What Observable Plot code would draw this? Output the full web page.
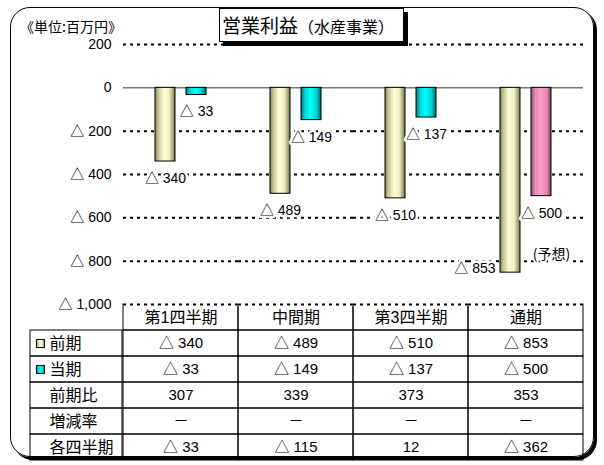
<!DOCTYPE html>
<html><head><meta charset="utf-8">
<script src="https://cdn.jsdelivr.net/npm/d3@7"></script>
<script src="https://cdn.jsdelivr.net/npm/@observablehq/plot@0.6"></script>
<style>
html,body{margin:0;padding:0;background:#fff;}
#wrap{position:relative;width:604px;height:465px;overflow:hidden;background:#fff;font-family:"Liberation Sans","Noto Sans CJK JP",sans-serif;}
#frame{position:absolute;left:10px;top:7px;width:582px;height:448px;border:1.5px solid #000;border-radius:20px;box-shadow:3px 3px 0 #000;}
.abs{position:absolute;}
#unit{left:20px;top:16px;font-size:14px;font-family:"Noto Sans CJK JP",sans-serif;line-height:20px;white-space:nowrap;}
#title{left:219px;top:8px;width:183px;height:32px;border:1px solid #000;box-shadow:4px 4px 0 #000;background:#fff;font-family:"Noto Sans CJK JP",sans-serif;white-space:nowrap;line-height:32px;}
#title .big{font-size:19px;margin-left:2px;}
#title .small{font-size:16px;}
</style></head>
<body>
<div id="wrap">
  <svg width="0" height="0" style="position:absolute">
    <defs>
      <linearGradient id="gPrev" x1="0" x2="1" y1="0" y2="0">
        <stop offset="0" stop-color="#85855a"/>
        <stop offset="0.18" stop-color="#c9c99a"/>
        <stop offset="0.45" stop-color="#ffffd4"/>
        <stop offset="0.72" stop-color="#eeeebd"/>
        <stop offset="1" stop-color="#76764c"/>
      </linearGradient>
      <linearGradient id="gCurr" x1="0" x2="1" y1="0" y2="0">
        <stop offset="0" stop-color="#007272"/>
        <stop offset="0.2" stop-color="#00d8d8"/>
        <stop offset="0.48" stop-color="#00ffff"/>
        <stop offset="0.78" stop-color="#00d0d0"/>
        <stop offset="1" stop-color="#006464"/>
      </linearGradient>
      <linearGradient id="gFore" x1="0" x2="1" y1="0" y2="0">
        <stop offset="0" stop-color="#8a5470"/>
        <stop offset="0.2" stop-color="#e08ab6"/>
        <stop offset="0.48" stop-color="#ff9ccc"/>
        <stop offset="0.78" stop-color="#e58cb8"/>
        <stop offset="1" stop-color="#7a4862"/>
      </linearGradient>
    </defs>
  </svg>
  <div id="frame"></div>
</div>
<script>
// ---- data ----
const categories = ["第1四半期", "中間期", "第3四半期", "通期"];
const prevValues = [-340, -489, -510, -853];      // 前期
const currValues = [-33, -149, -137, -500];       // 当期
const forecastFlags = [false, false, false, true]; // 当期 通期 = 予想
const ratioValues = [307, 339, 373, 353];          // 前期比
const changeRates = ["－", "－", "－", "－"];       // 増減率
const quarterValues = [-33, -115, 12, -362];       // 各四半期
const yTicks = [200, 0, -200, -400, -600, -800, -1000];
const rowLabels = ["前期", "当期", "前期比", "増減率", "各四半期"];
const seriesNames = ["前期", "当期"];
const forecastNote = "(予想)";

const fmt = v => (v < 0 ? "△ " : "") + d3.format(",")(Math.abs(v));
const FONT = '"Liberation Sans","Noto Sans CJK JP",sans-serif';

const bars = categories.flatMap((c, i) => [
  {cat: c, series: "前期", value: prevValues[i], kind: "prev"},
  {cat: c, series: "当期", value: currValues[i], kind: forecastFlags[i] ? "fore" : "curr", forecast: forecastFlags[i]}
]);
const fillOf = {prev: "url(#gPrev)", curr: "url(#gCurr)", fore: "url(#gFore)"};

const wrap = document.getElementById("wrap");
function place(el, left, top) {
  el.style.position = "absolute";
  el.style.left = left + "px";
  el.style.top = top + "px";
  el.style.margin = "0";
  wrap.appendChild(el);
}

// ---- table (drawn first, underneath) ----
const rowKeys = ["header", ...rowLabels];
const cells = [];
categories.forEach((c, i) => {
  cells.push({cat: c, row: "header", text: c});
  cells.push({cat: c, row: "前期", text: fmt(prevValues[i])});
  cells.push({cat: c, row: "当期", text: fmt(currValues[i])});
  cells.push({cat: c, row: "前期比", text: fmt(ratioValues[i])});
  cells.push({cat: c, row: "増減率", text: changeRates[i]});
  cells.push({cat: c, row: "各四半期", text: fmt(quarterValues[i])});
});

const tablePlot = Plot.plot({
  width: 464, height: 158,
  marginLeft: 1, marginRight: 2, marginTop: 1, marginBottom: 1,
  style: {background: "transparent", fontFamily: FONT, overflow: "visible"},
  x: {domain: categories, padding: 0, axis: null},
  y: {domain: rowKeys, padding: 0, axis: null},
  marks: [
    Plot.cell(cells, {x: "cat", y: "row", fill: "none", stroke: "#000", strokeWidth: 1}),
    Plot.text(cells, {filter: d => d.row === "header", x: "cat", y: "row", text: "text", fontSize: 16, fill: "#000", fontFamily: FONT}),
    Plot.text(cells, {filter: d => d.row !== "header", x: "cat", y: "row", text: "text", fontSize: 15, fill: "#000", fontFamily: FONT})
  ]
});
place(tablePlot, 121, 303);

const labelPlot = Plot.plot({
  width: 95, height: 158,
  marginLeft: 1, marginRight: 2, marginTop: 1, marginBottom: 1,
  style: {background: "transparent", fontFamily: FONT, overflow: "visible"},
  x: {domain: ["label"], padding: 0, axis: null},
  y: {domain: rowKeys, padding: 0, axis: null},
  marks: [
    Plot.cell(rowLabels, {x: () => "label", y: d => d, fill: "none", stroke: "#000", strokeWidth: 1}),
    Plot.dot([seriesNames[0]], {y: d => d, frameAnchor: "left", dx: 10, symbol: "square", r: 4.6, fill: "url(#gPrev)", stroke: "#000", strokeWidth: 1}),
    Plot.dot([seriesNames[1]], {y: d => d, frameAnchor: "left", dx: 10, symbol: "square", r: 4.6, fill: "url(#gCurr)", stroke: "#000", strokeWidth: 1}),
    Plot.text(rowLabels, {y: d => d, text: d => d, frameAnchor: "left", dx: 19, textAnchor: "start", fontSize: 16, fill: "#000", fontFamily: "Noto Sans CJK JP"})
  ]
});
place(labelPlot, 29, 303);

// ---- chart ----
const chart = Plot.plot({
  width: 604, height: 310,
  marginLeft: 122, marginRight: 21, marginTop: 44, marginBottom: 6,
  style: {background: "transparent", fontSize: "14px", fontFamily: FONT, overflow: "visible", color: "#000"},
  facet: {data: bars, x: "cat"},
  fx: {domain: categories, padding: 0, axis: null, label: null},
  x: {domain: seriesNames, paddingInner: 0.34, paddingOuter: 0.97, axis: null},
  y: {domain: [-1000, 200], ticks: yTicks, tickFormat: fmt, tickSize: 0, tickPadding: 12, label: null},
  marks: [
    Plot.ruleY([-1000], {stroke: "#fff", strokeWidth: 3}),
    Plot.ruleY(yTicks.filter(v => v !== 0), {stroke: "#000", strokeWidth: 2, strokeDasharray: "3,4"}),
    Plot.ruleY([0], {stroke: "#333", strokeWidth: 1}),
    Plot.barY(bars, {filter: d => d.kind === "prev", x: "series", y: "value", fill: fillOf.prev, stroke: "#000", strokeWidth: 1}),
    Plot.barY(bars, {filter: d => d.kind === "curr", x: "series", y: "value", fill: fillOf.curr, stroke: "#000", strokeWidth: 1}),
    Plot.barY(bars, {filter: d => d.kind === "fore", x: "series", y: "value", fill: fillOf.fore, stroke: "#000", strokeWidth: 1}),
    Plot.text(bars, {filter: d => d.value >= -800, x: "series", y: "value", text: d => fmt(d.value), dy: 17, fill: "#000", stroke: "#fff", strokeWidth: 5, fontSize: 14}),
    Plot.text(bars, {filter: d => d.value < -800, x: "series", y: "value", text: d => fmt(d.value), dy: -4, dx: -15, textAnchor: "end", fill: "#000", stroke: "#fff", strokeWidth: 5, fontSize: 14}),
    Plot.text(bars, {filter: d => d.forecast, x: "series", y: "value", text: () => forecastNote, dy: 58, dx: 10, fill: "#000", stroke: "#fff", strokeWidth: 4, fontSize: 14, fontFamily: "Noto Sans CJK JP"})
  ]
});
place(chart, 0, 0);

// ---- title & unit ----
const unit = document.createElement("div");
unit.className = "abs"; unit.id = "unit";
unit.textContent = "《単位:百万円》";
wrap.appendChild(unit);

const title = document.createElement("div");
title.className = "abs"; title.id = "title";
title.innerHTML = '<span class="big">営業利益</span><span class="small">（水産事業）</span>';
wrap.appendChild(title);
</script>
</body></html>
